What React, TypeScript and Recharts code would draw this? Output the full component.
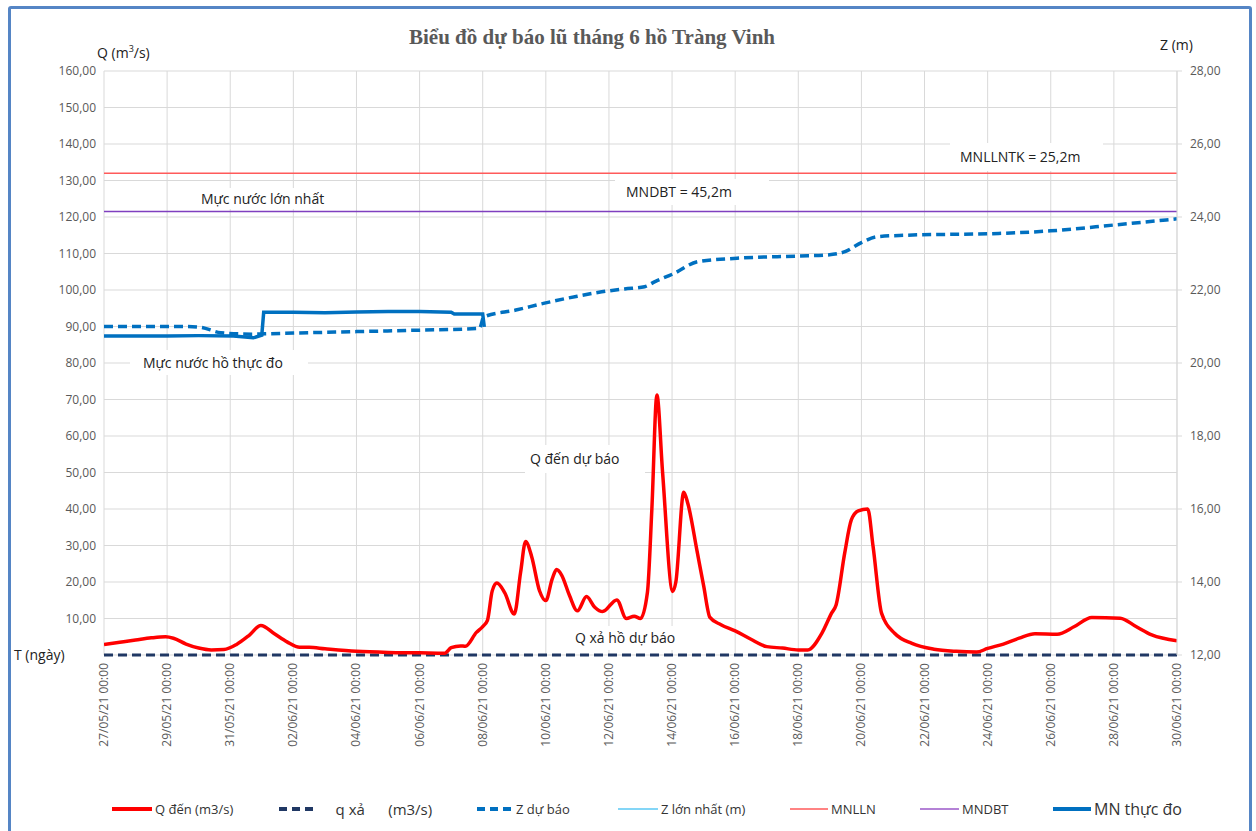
import React from "react";
import {
  CartesianGrid,
  ComposedChart,
  Line,
  ReferenceLine,
  XAxis,
  YAxis,
} from "recharts";

// ngày tính từ 27/05/21 00:00
const xTickDays = [0, 2, 4, 6, 8, 10, 12, 14, 16, 18, 20, 22, 24, 26, 28, 30, 32, 34];
const xTickLabels = [
  "27/05/21 00:00", "29/05/21 00:00", "31/05/21 00:00", "02/06/21 00:00",
  "04/06/21 00:00", "06/06/21 00:00", "08/06/21 00:00", "10/06/21 00:00",
  "12/06/21 00:00", "14/06/21 00:00", "16/06/21 00:00", "18/06/21 00:00",
  "20/06/21 00:00", "22/06/21 00:00", "24/06/21 00:00", "26/06/21 00:00",
  "28/06/21 00:00", "30/06/21 00:00",
];
const qTicks = [0, 10, 20, 30, 40, 50, 60, 70, 80, 90, 100, 110, 120, 130, 140, 150, 160];
const zTicks = [12, 14, 16, 18, 20, 22, 24, 26, 28];

// Q đến (m3/s): [ngày, Q]
const qDen: [number, number][] = [
  [0, 2.9], [0.5, 3.5], [1, 4.1], [1.5, 4.7], [1.95, 5.0], [2.2, 4.6], [2.6, 3.0],
  [3.0, 1.9], [3.4, 1.4], [3.8, 1.5], [4.2, 2.9], [4.6, 5.4], [4.97, 8.1], [5.4, 5.8],
  [5.8, 3.6], [6.2, 2.1], [6.5, 2.1], [7, 1.7], [8, 1.0], [9, 0.7], [10, 0.6],
  [10.8, 0.5], [11.0, 2.0], [11.3, 2.5], [11.45, 2.4], [11.8, 6.2], [12.0, 7.8],
  [12.15, 9.5], [12.3, 17.5], [12.45, 19.7], [12.7, 17.0], [13.0, 11.2], [13.2, 22.6],
  [13.36, 31.1], [13.55, 27], [13.8, 17.6], [14.0, 14.9], [14.2, 20.8], [14.34, 23.4],
  [14.5, 21.9], [14.75, 16.3], [15.0, 12.1], [15.29, 16.0], [15.55, 13.1], [15.8, 11.9],
  [16.25, 15.1], [16.55, 10.0], [16.8, 10.6], [17.0, 10.0], [17.22, 17.2], [17.36, 40],
  [17.52, 71.2], [17.7, 50], [18.02, 17.4], [18.12, 20], [18.37, 44.6], [18.5, 41.5],
  [18.8, 28.1], [19.0, 19.0], [19.2, 10.3], [19.55, 8.3], [20.0, 6.6], [20.5, 4.3],
  [21.0, 2.3], [21.5, 1.9], [22.0, 1.4], [22.3, 1.4], [22.75, 6.0], [23.05, 11.4],
  [23.2, 13.8], [23.47, 27.9], [23.68, 37], [23.9, 39.5], [24.2, 40.0], [24.37, 29.7],
  [24.64, 11.4], [25.06, 5.9], [25.6, 3.2], [26.3, 1.6], [27.0, 1.0], [27.65, 0.8],
  [28.0, 1.8], [28.5, 3.0], [29.0, 4.6], [29.5, 5.8], [30.2, 5.7], [30.75, 7.8],
  [31.3, 10.3], [32.2, 10.1], [32.7, 7.8], [33.2, 5.5], [34.0, 3.9],
];

// q xả (m3/s)
const qXa: [number, number][] = [[0, 0], [34, 0]];

// Z dự báo (m)
const zDuBao: [number, number][] = [
  [0, 21.0], [2, 21.0], [2.6, 21.0], [3.05, 20.98], [3.7, 20.83], [4.7, 20.79],
  [5.1, 20.8], [6, 20.82], [8, 20.86], [10, 20.9], [11.9, 20.95], [12.03, 21.26],
  [13.05, 21.45], [13.96, 21.64], [15, 21.83], [15.77, 21.95], [16.5, 22.03],
  [17.13, 22.09], [17.46, 22.23], [18.03, 22.44], [18.83, 22.78], [20.06, 22.87],
  [22, 22.93], [22.92, 22.96], [23.48, 23.05], [24, 23.3], [24.5, 23.46], [25.4, 23.5],
  [28.35, 23.55], [30, 23.62], [32, 23.78], [34, 23.95],
];

// MN thực đo (m)
const mnThucDo: [number, number][] = [
  [0, 20.74], [2, 20.74], [3, 20.75], [4.1, 20.74], [4.73, 20.69], [5.0, 20.76],
  [5.06, 21.39], [6, 21.39], [7, 21.38], [8, 21.4], [9, 21.41], [10, 21.41],
  [11.0, 21.39], [11.1, 21.34], [12.0, 21.34], [12.05, 20.99],
];

const MNLLN = 25.2;
const MNDBT = 24.15;

const toRows = (pts: [number, number][]) => pts.map(([t, v]) => ({ t, v }));

const fmt = (v: number) => v.toFixed(2).replace(".", ",");

const FONT = "'Open Sans', 'Liberation Sans', sans-serif";
const GRID = "#D9D9D9";
const TICK = "#595959";

function DateTick({ x, y, payload }: { x?: number; y?: number; payload?: { value: number } }) {
  const i = xTickDays.indexOf(payload?.value ?? -1);
  return (
    <text
      x={x}
      y={y}
      transform={`rotate(-90, ${x}, ${y})`}
      textAnchor="end"
      dy={4}
      fill={TICK}
      fontSize={12}
      fontFamily={FONT}
    >
      {xTickLabels[i]}
    </text>
  );
}

function LegendItem({
  left,
  color,
  width,
  dash,
  lineLen,
  text,
  size,
}: {
  left: number;
  color: string;
  width: number;
  dash?: string;
  lineLen: number;
  text: string;
  size: number;
}) {
  return (
    <div style={{ position: "absolute", left, top: 799, height: 20, display: "flex", alignItems: "center" }}>
      <svg width={lineLen} height={20}>
        <line x1={0} x2={lineLen} y1={10} y2={10} stroke={color} strokeWidth={width} strokeDasharray={dash} />
      </svg>
      <span style={{ fontSize: size, color: "#333", marginLeft: 3, whiteSpace: "pre" }}>{text}</span>
    </div>
  );
}

function Note({ left, top, w, h, text, pad = 8 }: { left: number; top: number; w: number; h: number; text: string; pad?: number }) {
  return (
    <div
      style={{
        position: "absolute",
        left,
        top,
        width: w,
        height: h,
        background: "#fff",
        fontSize: 14,
        color: "#222",
        lineHeight: `${h}px`,
        paddingLeft: pad,
        boxSizing: "border-box",
        whiteSpace: "nowrap",
      }}
    >
      {text}
    </div>
  );
}

export default function App() {
  return (
    <div style={{ position: "absolute", left: 0, top: 0, width: 1256, height: 831, background: "#fff", fontFamily: FONT, overflow: "hidden" }}>
      <div
        style={{
          position: "absolute",
          left: 8,
          top: 6,
          width: 1244,
          height: 840,
          border: "3px solid #5585C5",
          borderRadius: 3,
          boxSizing: "border-box",
        }}
      />
      <ComposedChart width={1256} height={831} margin={{ top: 71, right: 19, left: 44, bottom: 76 }} style={{ position: "absolute", left: 0, top: 0 }}>
        <CartesianGrid stroke={GRID} yAxisId="q" />
        <XAxis
          type="number"
          dataKey="t"
          domain={[0, 34]}
          ticks={xTickDays}
          interval={0}
          allowDataOverflow
          tick={<DateTick />}
          tickLine={false}
          axisLine={false}
          height={100}
        />
        <YAxis
          yAxisId="q"
          domain={[0, 160]}
          ticks={qTicks}
          interval={0}
          width={60}
          axisLine={false}
          tickLine={false}
          tick={{ fill: TICK, fontSize: 12, fontFamily: FONT }}
          tickFormatter={(v: number) => (v === 0 ? "" : fmt(v))}
        />
        <YAxis
          yAxisId="z"
          orientation="right"
          domain={[12, 28]}
          ticks={zTicks}
          interval={0}
          width={60}
          axisLine={{ stroke: GRID }}
          tickLine={{ stroke: GRID }}
          tickSize={5}
          tickMargin={8}
          tick={{ fill: TICK, fontSize: 12, fontFamily: FONT }}
          tickFormatter={fmt}
        />
        <ReferenceLine yAxisId="z" y={MNLLN} stroke="#FF5A5A" strokeWidth={1.5} />
        <ReferenceLine yAxisId="z" y={MNDBT} stroke="#7F3FBF" strokeWidth={1.5} />
        <Line
          yAxisId="q"
          data={toRows(qXa)}
          dataKey="v"
          type="linear"
          stroke="#203864"
          strokeWidth={3}
          strokeDasharray="9 5"
          dot={false}
          isAnimationActive={false}
        />
        <Line
          yAxisId="z"
          data={toRows(zDuBao)}
          dataKey="v"
          type="monotone"
          stroke="#0070C0"
          strokeWidth={3.5}
          strokeDasharray="9 5"
          dot={false}
          isAnimationActive={false}
        />
        <Line
          yAxisId="z"
          data={toRows(mnThucDo)}
          dataKey="v"
          type="linear"
          stroke="#0070C0"
          strokeWidth={3.5}
          dot={false}
          isAnimationActive={false}
        />
        <Line
          yAxisId="q"
          data={toRows(qDen)}
          dataKey="v"
          type="monotone"
          stroke="#FF0000"
          strokeWidth={3.5}
          dot={false}
          isAnimationActive={false}
        />
      </ComposedChart>

      <div
        style={{
          position: "absolute",
          left: 372,
          top: 25,
          width: 440,
          textAlign: "center",
          fontFamily: "'Liberation Serif', serif",
          fontWeight: "bold",
          fontSize: 21,
          color: "#595959",
        }}
      >
        Biểu đồ dự báo lũ tháng 6 hồ Tràng Vinh
      </div>
      <div style={{ position: "absolute", left: 97, top: 42, fontSize: 14, color: "#222" }}>
        Q (m<sup style={{ fontSize: 9 }}>3</sup>/s)
      </div>
      <div style={{ position: "absolute", left: 1160, top: 35, fontSize: 14, color: "#222" }}>Z (m)</div>
      <div style={{ position: "absolute", left: 14, top: 645, fontSize: 14, color: "#222" }}>T (ngày)</div>

      <Note left={950} top={143} w={153} h={28} text="MNLLNTK = 25,2m" pad={10} />
      <Note left={615} top={179} w={154} h={26} text="MNDBT = 45,2m" pad={11} />
      <Note left={192} top={188} w={150} h={21} text="Mực nước lớn nhất" pad={9} />
      <Note left={130} top={350} w={178} h={25} text="Mực nước hồ thực đo" pad={13} />
      <Note left={525} top={445} w={120} h={28} text="Q đến dự báo" pad={5} />
      <Note left={568} top={626} w={130} h={24} text="Q xả hồ dự báo" pad={7} />

      <LegendItem left={112} color="#FF0000" width={4} lineLen={40} text="Q đến (m3/s)" size={13} />
      <LegendItem left={279} color="#203864" width={4} dash="8 5" lineLen={38} text={"    q xả      (m3/s)"} size={15} />
      <LegendItem left={477} color="#0070C0" width={4} dash="8 5" lineLen={36} text="Z dự báo" size={13} />
      <LegendItem left={618} color="#5BC8F5" width={1.5} lineLen={40} text="Z lớn nhất (m)" size={13} />
      <LegendItem left={790} color="#FF5A5A" width={1.5} lineLen={38} text="MNLLN" size={13} />
      <LegendItem left={920} color="#9B59C9" width={1.5} lineLen={39} text="MNDBT" size={13} />
      <LegendItem left={1053} color="#0070C0" width={4} lineLen={38} text="MN thực đo" size={16} />
    </div>
  );
}
